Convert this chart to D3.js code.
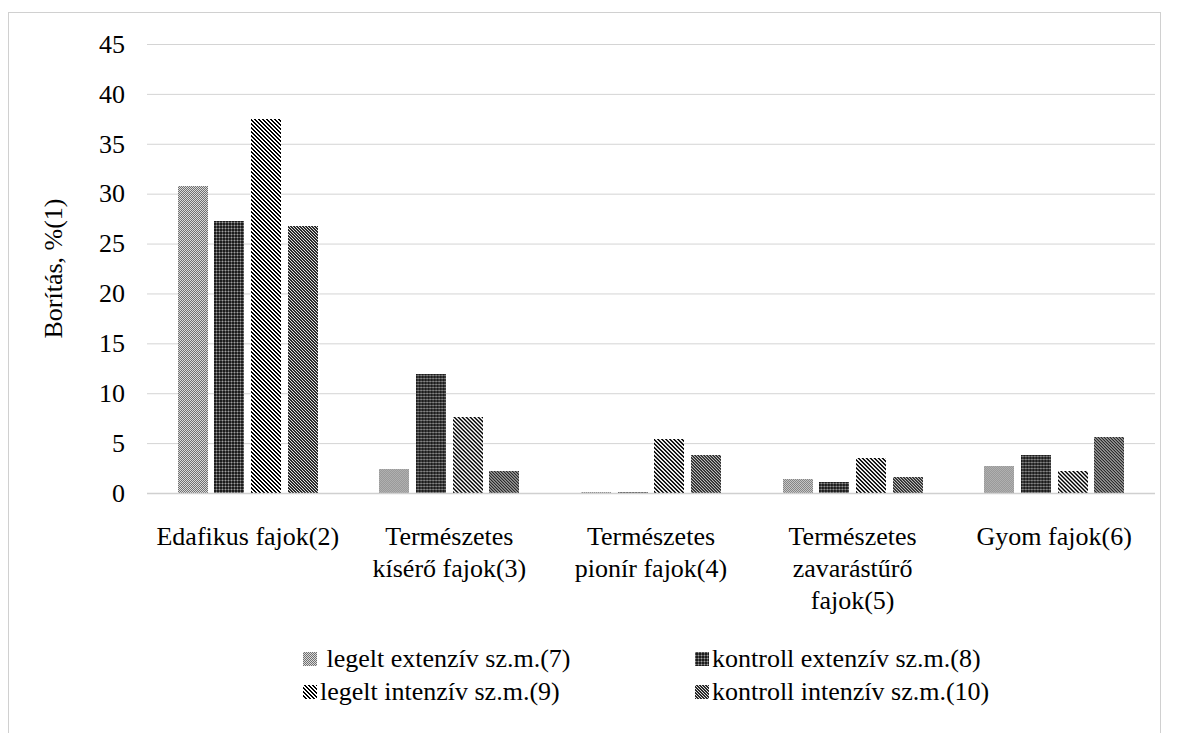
<!DOCTYPE html>
<html>
<head>
<meta charset="utf-8">
<script src="https://cdn.jsdelivr.net/npm/d3@7"></script>
<style>
  html, body { margin: 0; padding: 0; background: #fff; }
  svg text { font-family: "Liberation Serif", "DejaVu Serif", "Noto Serif", serif; }
</style>
</head>
<body>
<svg id="chart" width="1181" height="733"></svg>
<script>
// Categories (x axis), wrapped the way they are printed under the axis
const categories = [
  "Edafikus fajok(2)",
  "Természetes\nkísérő fajok(3)",
  "Természetes\npionír fajok(4)",
  "Természetes\nzavarástűrő\nfajok(5)",
  "Gyom fajok(6)"
];

// Series names
const seriesNames = [
  " legelt extenzív sz.m.(7)",
  "kontroll extenzív sz.m.(8)",
  "legelt intenzív sz.m.(9)",
  "kontroll intenzív sz.m.(10)"
];

// Coverage (%) per series, one value per category
const legeltExtenziv   = [30.8, 2.4, 0.1, 1.4, 2.7];
const kontrollExtenziv = [27.3, 11.9, 0.1, 1.1, 3.8];
const legeltIntenziv   = [37.5, 7.6, 5.4, 3.5, 2.2];
const kontrollIntenziv = [26.8, 2.2, 3.8, 1.6, 5.6];

const yTicks = [0, 5, 10, 15, 20, 25, 30, 35, 40, 45];
const yTitle = "Borítás, %(1)";

const seriesValues = [legeltExtenziv, kontrollExtenziv, legeltIntenziv, kontrollIntenziv];

const FONT = "'Liberation Serif', 'DejaVu Serif', 'Noto Serif', serif";
const svg = d3.select("#chart");
const plot = { left: 147, right: 1155, top: 44, bottom: 493 };

// ---------- fill patterns (pixel tiles) ----------
const defs = svg.append("defs");
function pixelPattern(id, size, bg, cells) {
  const p = defs.append("pattern")
    .attr("id", id)
    .attr("patternUnits", "userSpaceOnUse")
    .attr("width", size).attr("height", size);
  p.append("rect").attr("width", size).attr("height", size).attr("fill", bg);
  for (let yy = 0; yy < size; yy++) {
    for (let xx = 0; xx < size; xx++) {
      const c = cells(xx, yy);
      if (c) p.append("rect").attr("x", xx).attr("y", yy)
        .attr("width", 1).attr("height", 1).attr("fill", c)
        .attr("shape-rendering", "crispEdges");
    }
  }
}
// light dotted checker
pixelPattern("pat0", 2, "#dadada", (x, y) => ((x + y) % 2 === 0 ? "#707070" : null));
// dark grid
pixelPattern("pat1", 3, "#1c1c1c", (x, y) => (x === 0 && y === 0 ? "#a0a0a0" : (x === 0 || y === 0 ? "#555" : null)));
// wide downward diagonal stripes
pixelPattern("pat2", 4, "#ffffff", (x, y) => (((x - y + 8) % 4) < 2 ? "#000" : null));
// fine downward diagonal hatch
pixelPattern("pat3", 3, "#2a2a2a", (x, y) => (((x - y + 6) % 3) === 0 ? "#e0e0e0" : null));

const fills = ["url(#pat0)", "url(#pat1)", "url(#pat2)", "url(#pat3)"];

// ---------- outer frame ----------
svg.append("rect")
  .attr("x", 8.5).attr("y", 12.5)
  .attr("width", 1152).attr("height", 760)
  .attr("fill", "none").attr("stroke", "#d0d0d0").attr("stroke-width", 1);

// ---------- scales ----------
const y = d3.scaleLinear().domain([0, 45]).range([plot.bottom, plot.top]);
const x0 = d3.scaleBand().domain(d3.range(categories.length))
  .range([plot.left, plot.right]).paddingInner(0).paddingOuter(0);
const groupSpan = 140;
const x1 = d3.scaleBand().domain(d3.range(seriesNames.length))
  .range([(x0.bandwidth() - groupSpan) / 2, (x0.bandwidth() + groupSpan) / 2])
  .paddingInner(0.185);

// ---------- gridlines + y axis labels ----------
const yAxis = d3.axisLeft(y).tickValues(yTicks)
  .tickSize(-(plot.right - plot.left)).tickPadding(22);
const gy = svg.append("g")
  .attr("transform", `translate(${plot.left},0)`)
  .call(yAxis)
  .attr("font-family", FONT);
gy.select(".domain").remove();
gy.selectAll(".tick line").attr("stroke", "#d4d4d4").attr("stroke-width", 1);
gy.selectAll(".tick text")
  .attr("font-family", FONT)
  .attr("font-size", 26).attr("fill", "#000");

// ---------- bars ----------
const groups = svg.append("g").selectAll("g")
  .data(categories)
  .join("g")
  .attr("transform", (d, i) => `translate(${x0(i)},0)`);

groups.selectAll("rect")
  .data((d, i) => seriesValues.map((vals, s) => ({ s, v: vals[i] })))
  .join("rect")
  .attr("x", d => x1(d.s))
  .attr("width", x1.bandwidth())
  .attr("y", d => y(d.v))
  .attr("height", d => y(0) - y(d.v))
  .attr("fill", d => fills[d.s])
  .attr("shape-rendering", "crispEdges");

// x axis baseline
svg.append("line")
  .attr("x1", plot.left).attr("x2", plot.right)
  .attr("y1", y(0) + 0.5).attr("y2", y(0) + 0.5)
  .attr("stroke", "#d0d0d0").attr("stroke-width", 1.5);

// ---------- category labels ----------
const catLabels = svg.append("g")
  .attr("font-family", FONT)
  .attr("font-size", 26).attr("text-anchor", "middle").attr("fill", "#000");
categories.forEach((c, i) => {
  const t = catLabels.append("text")
    .attr("x", x0(i) + x0.bandwidth() / 2)
    .attr("y", 545);
  c.split("\n").forEach((line, k) => {
    t.append("tspan")
      .attr("x", x0(i) + x0.bandwidth() / 2)
      .attr("dy", k === 0 ? 0 : 32)
      .text(line);
  });
});

// ---------- y axis title ----------
svg.append("text")
  .attr("transform", `translate(62,${(plot.top + plot.bottom) / 2}) rotate(-90)`)
  .attr("text-anchor", "middle")
  .attr("font-family", FONT)
  .attr("font-size", 26)
  .attr("fill", "#000")
  .text(yTitle);

// ---------- legend ----------
const legendPos = [
  { x: 303, y: 667 }, { x: 695, y: 667 },
  { x: 303, y: 700 }, { x: 695, y: 700 }
];
const legend = svg.append("g").selectAll("g")
  .data(seriesNames)
  .join("g")
  .attr("transform", (d, i) => `translate(${legendPos[i].x},${legendPos[i].y})`);
legend.append("rect")
  .attr("x", 0).attr("y", -15)
  .attr("width", 14).attr("height", 14)
  .attr("fill", (d, i) => fills[i])
  .attr("shape-rendering", "crispEdges");
legend.append("text")
  .attr("x", 17).attr("y", 0)
  .attr("font-family", FONT)
  .attr("font-size", 26)
  .attr("fill", "#000")
  .style("white-space", "pre")
  .text(d => d);
</script>
</body>
</html>
